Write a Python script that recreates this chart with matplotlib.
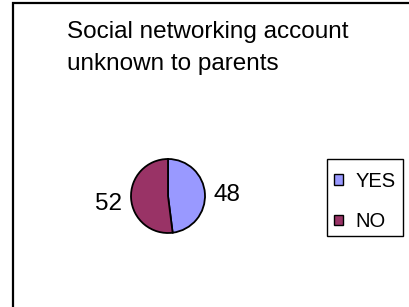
import matplotlib
matplotlib.use("Agg")
import matplotlib.pyplot as plt
from matplotlib.patches import Rectangle, Patch

title = "Social networking account\nunknown to parents"
categories = ["YES", "NO"]
values = [48, 52]
colors = ["#9999FF", "#993366"]

W, H = 410, 307
fig = plt.figure(figsize=(W / 100, H / 100), dpi=100)
plt.rcParams['font.family'] = ['Liberation Sans', 'DejaVu Sans']

# outer chart border (right/bottom edges cut off)
fig.patches.append(Rectangle((13 / W, -0.1), 1.2, 1 - 3 / H + 0.1,
                             transform=fig.transFigure, fill=False,
                             edgecolor='black', linewidth=1.6))

fig.text(67 / W, 1 - 70 / H, title, fontsize=17.5, ha='left', va='baseline',
         linespacing=1.6)

cx, cy, r = 168, 196, 37
ax = fig.add_axes([(cx - r) / W, (H - cy - r) / H, 2 * r / W, 2 * r / H])
wedges, texts = ax.pie(values, labels=[str(v) for v in values], colors=colors,
                       startangle=90, counterclock=False, labeldistance=1.24,
                       wedgeprops=dict(edgecolor='black', linewidth=1.3),
                       textprops=dict(fontsize=17.5))
# nudge labels slightly down, as in the reference
for t, dy in zip(texts, (-0.06, -0.14)):
    x, y = t.get_position()
    t.set_position((x, y + dy))
ax.set_xlim(-1, 1)
ax.set_ylim(-1, 1)
ax.set_aspect('auto')
ax.axis('off')

# legend frame
fig.patches.append(Rectangle((327 / W, 1 - 236 / H), 76 / W, 77 / H,
                             transform=fig.transFigure, fill=False,
                             edgecolor='black', linewidth=1.0))

handles = [Patch(facecolor=c, edgecolor='black', linewidth=1.0) for c in colors]
leg = fig.legend(handles, categories, loc='upper left',
                 bbox_to_anchor=(334 / W, 1 - 172 / H),
                 fontsize=14.5, frameon=False,
                 handlelength=0.45, handleheight=0.45, handletextpad=0.6,
                 labelspacing=1.05, borderpad=0, borderaxespad=0)

fig.savefig("out.png", dpi=100)
